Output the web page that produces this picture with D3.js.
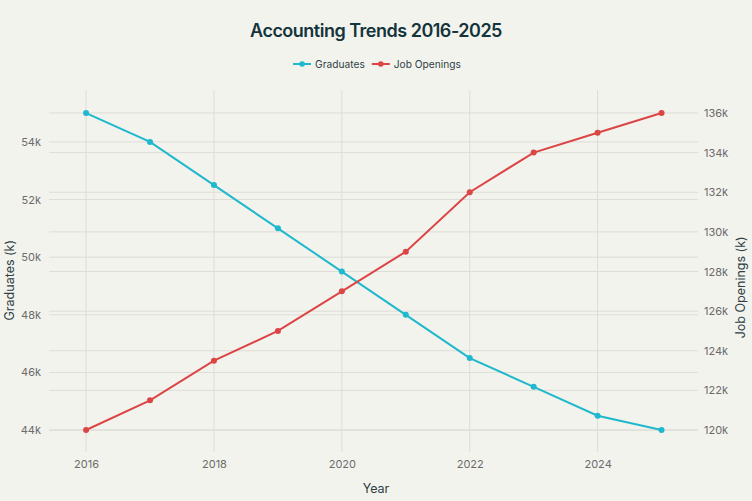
<!DOCTYPE html>
<html>
<head>
<meta charset="utf-8">
<script src="https://cdn.jsdelivr.net/npm/d3@7"></script>
<style>
  body { margin: 0; background: #f3f3ee; }
  svg { display: block; font-family: Inter, "Noto Sans", sans-serif; }
</style>
</head>
<body>
<div id="chart"></div>
<script>
// chart data
var years = [2016, 2017, 2018, 2019, 2020, 2021, 2022, 2023, 2024, 2025];
var graduates = [55, 54, 52.5, 51, 49.5, 48, 46.5, 45.5, 44.5, 44];
var jobOpenings = [120, 121.5, 123.5, 125, 127, 129, 132, 134, 135, 136];
var xTicks = [2016, 2018, 2020, 2022, 2024];
var leftTicks = [44, 46, 48, 50, 52, 54];
var rightTicks = [120, 122, 124, 126, 128, 130, 132, 134, 136];
var seriesNames = ["Graduates", "Job Openings"];

var W = 752, H = 501;
var margin = { top: 90, right: 54, bottom: 49, left: 49 };
var colGrad = "#1fb8cd", colJobs = "#db4545";

var svg = d3.select("#chart").append("svg").attr("width", W).attr("height", H);
svg.append("rect").attr("width", W).attr("height", H).attr("fill", "#f3f3ee");

var x = d3.scaleLinear().domain([2015.42, 2025.57]).range([margin.left, W - margin.right]);
var yL = d3.scaleLinear().domain([43.24, 55.8]).range([H - margin.bottom, margin.top]);
var yR = d3.scaleLinear().domain([118.89, 137.16]).range([H - margin.bottom, margin.top]);

var grid = svg.append("g");
// vertical gridlines
grid.selectAll(".vx").data(xTicks).enter().append("line")
    .attr("x1", d => x(d)).attr("x2", d => x(d))
    .attr("y1", margin.top).attr("y2", H - margin.bottom)
    .attr("stroke", "#dddcd6").attr("stroke-width", 1);
// horizontal gridlines for both axes
grid.selectAll(".hl").data(leftTicks).enter().append("line")
    .attr("x1", margin.left).attr("x2", W - margin.right)
    .attr("y1", d => yL(d)).attr("y2", d => yL(d))
    .attr("stroke", "#dddcd6").attr("stroke-width", 1);
grid.selectAll(".hr").data(rightTicks).enter().append("line")
    .attr("x1", margin.left).attr("x2", W - margin.right)
    .attr("y1", d => yR(d)).attr("y2", d => yR(d))
    .attr("stroke", "#dddcd6").attr("stroke-width", 1);

// axes (labels only)
var fmtK = d => d + "k";
var axL = svg.append("g").attr("transform", "translate(" + (margin.left - 5) + ",0)")
    .call(d3.axisLeft(yL).tickValues(leftTicks).tickFormat(fmtK).tickSize(0));
var axR = svg.append("g").attr("transform", "translate(" + (W - margin.right + 3) + ",0)")
    .call(d3.axisRight(yR).tickValues(rightTicks).tickFormat(fmtK).tickSize(0));
var axX = svg.append("g").attr("transform", "translate(0," + (H - margin.bottom + 5) + ")")
    .call(d3.axisBottom(x).tickValues(xTicks).tickFormat(d3.format("d")).tickSize(0));
[axL, axR, axX].forEach(function(a) {
    a.select(".domain").remove();
    a.selectAll("text").attr("fill", "#6b6b6b").style("font-size", "11px")
        .style("font-family", "Inter, 'Noto Sans', sans-serif");
});
axX.selectAll("text").attr("dy", "0.75em");

// axis titles
svg.append("text").attr("x", W / 2).attr("y", 493).attr("text-anchor", "middle")
    .attr("fill", "#2f3f44").style("font-size", "12.5px").text("Year");
svg.append("text").attr("transform", "translate(14," + yL(49.2) + ") rotate(-90)")
    .attr("text-anchor", "middle").attr("fill", "#2f3f44").style("font-size", "12.5px")
    .text("Graduates (k)");
svg.append("text").attr("transform", "translate(745," + yR(127.2) + ") rotate(-90)")
    .attr("text-anchor", "middle").attr("fill", "#2f3f44").style("font-size", "12.5px")
    .text("Job Openings (k)");

// series
var lineL = d3.line().x((d, i) => x(years[i])).y(d => yL(d));
var lineR = d3.line().x((d, i) => x(years[i])).y(d => yR(d));

svg.append("path").datum(graduates).attr("d", lineL)
    .attr("fill", "none").attr("stroke", colGrad).attr("stroke-width", 2);
svg.selectAll(".pg").data(graduates).enter().append("circle")
    .attr("cx", (d, i) => x(years[i])).attr("cy", d => yL(d)).attr("r", 3).attr("fill", colGrad);

svg.append("path").datum(jobOpenings).attr("d", lineR)
    .attr("fill", "none").attr("stroke", colJobs).attr("stroke-width", 2);
svg.selectAll(".pj").data(jobOpenings).enter().append("circle")
    .attr("cx", (d, i) => x(years[i])).attr("cy", d => yR(d)).attr("r", 3).attr("fill", colJobs);

// title
svg.append("text").attr("x", W / 2).attr("y", 37).attr("text-anchor", "middle")
    .attr("fill", "#13343b").style("font-size", "18px").style("font-weight", 600)
    .style("letter-spacing", "-0.5px")
    .text("Accounting Trends 2016-2025");

// legend, laid out left to right then centred
var legendColors = [colGrad, colJobs];
var lg = svg.append("g");
var cursor = 0;
seriesNames.forEach(function(name, i) {
    var g = lg.append("g").attr("transform", "translate(" + cursor + ",0)");
    g.append("line").attr("x1", 0).attr("x2", 18).attr("stroke", legendColors[i]).attr("stroke-width", 2);
    g.append("circle").attr("cx", 9).attr("r", 2.8).attr("fill", legendColors[i]);
    var t = g.append("text").attr("x", 22).attr("dy", "0.35em").attr("fill", "#2f3f44")
        .style("font-size", "10.2px").text(name);
    cursor += 22 + t.node().getComputedTextLength() + 7;
});
lg.attr("transform", "translate(" + (W / 2 - (cursor - 7) / 2 + 1) + ",64)");
</script>
</body>
</html>
